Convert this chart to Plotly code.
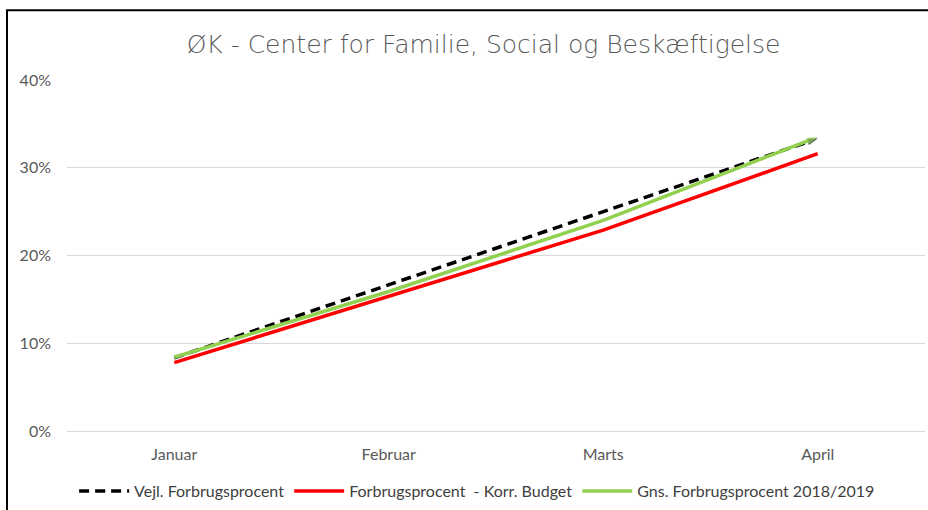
import plotly.graph_objects as go

months = ["Januar", "Februar", "Marts", "April"]
vejl = [0.0833, 0.1667, 0.25, 0.3333]
forbrug = [0.078, 0.153, 0.229, 0.316]
gns = [0.084, 0.159, 0.240, 0.335]
yticks = [0, 0.1, 0.2, 0.3, 0.4]
ytick_labels = ["0%", "10%", "20%", "30%", "40%"]

title = "ØK - Center for Familie, Social og Beskæftigelse"
names = ["Vejl. Forbrugsprocent", "Forbrugsprocent  - Korr. Budget", "Gns. Forbrugsprocent 2018/2019"]

def arrow_marker(color, n):
    return dict(symbol=["circle"] * (n - 1) + ["arrow"],
                size=[0] * (n - 1) + [11],
                angleref="previous", color=color, line=dict(width=0))

fig = go.Figure()
fig.add_trace(go.Scatter(x=months, y=vejl, name=names[0], mode="lines+markers",
                         line=dict(color="#000000", width=3.5, dash="10px,6px"),
                         marker=arrow_marker("#000000", len(months))))
fig.add_trace(go.Scatter(x=months, y=forbrug, name=names[1], mode="lines",
                         line=dict(color="#FF0000", width=3.5)))
fig.add_trace(go.Scatter(x=months, y=gns, name=names[2], mode="lines+markers",
                         line=dict(color="#92D050", width=3.5),
                         marker=arrow_marker("#92D050", len(months))))

fig.update_layout(
    width=928, height=510,
    margin=dict(l=67, r=3, t=80, b=78),
    paper_bgcolor="white", plot_bgcolor="white",
    title=dict(text=title, x=0.4855, xref="paper", y=1 - 44 / 510, yanchor="middle",
               xanchor="center",
               font=dict(family="DejaVu Sans ExtraLight, DejaVu Sans", weight=200,
                         size=25, color="#595959")),
    font=dict(family="Lato", size=16, color="#595959"),
    showlegend=True,
    legend=dict(orientation="h", x=0.478, xanchor="center", y=-0.168, yanchor="middle",
                font=dict(family="Lato", size=16, color="#404040"),
                itemwidth=50, tracegroupgap=0),
    xaxis=dict(range=[-0.5, 3.5], showgrid=False, showline=True, linecolor="#D9D9D9",
               linewidth=1, ticks="", ticklabelstandoff=9, zeroline=False,
               tickfont=dict(family="Lato", size=16, color="#595959")),
    yaxis=dict(range=[0, 0.4], tickvals=yticks, ticktext=ytick_labels,
               showgrid=True, gridcolor="#D9D9D9", gridwidth=1, zeroline=False,
               ticks="", ticklabelstandoff=15, showline=False,
               tickfont=dict(family="Lato", size=16, color="#595959")),
    shapes=[dict(type="rect", xref="paper", yref="paper",
                 x0=(7 - 67) / 858, x1=1.2, y0=-1, y1=1 + 70 / 352,
                 line=dict(color="black", width=2), fillcolor="rgba(0,0,0,0)", layer="above")],
)

fig.write_html("out.html", config={"displayModeBar": False},
               post_script="document.body.style.margin='0';document.body.style.overflow='hidden';")
